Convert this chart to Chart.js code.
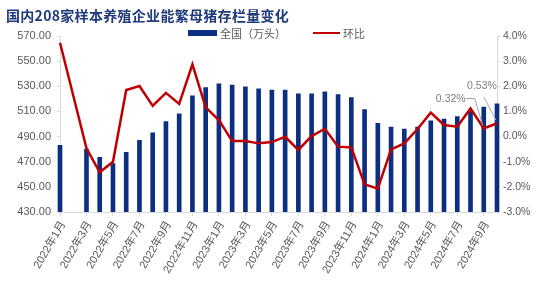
<!DOCTYPE html>
<html>
<head>
<meta charset="utf-8">
<script src="https://cdn.jsdelivr.net/npm/chart.js@4.4.1/dist/chart.umd.min.js"></script>
<style>
    html, body { margin: 0; padding: 0; background: #fff; }
    #wrap { position: relative; width: 550px; height: 288px; }
    #title {
        position: absolute; left: 6px; top: 6px;
        font: bold 14px "Noto Sans CJK SC", sans-serif;
        letter-spacing: 0.3px; color: #1f3a7a; line-height: 18px;
    }
    .lg { position: absolute; font: 11px "Noto Sans CJK SC", sans-serif; color: #595959; line-height: 14px; }
    .sw { position: absolute; }
</style>
</head>
<body>
<div id="wrap">
    <canvas id="chart" width="550" height="288"></canvas>
    <div id="title">国内208家样本养殖企业能繁母猪存栏量变化</div>
    <div class="sw" style="left:188px;top:30px;width:29px;height:6px;background:#0d2f82"></div>
    <div class="lg" style="left:220px;top:26px">全国（万头）</div>
    <div class="sw" style="left:313px;top:32px;width:27px;height:2px;background:#c00000"></div>
    <div class="lg" style="left:343px;top:26px">环比</div>
</div>
<script>
// 月份（2022年2月无数据）
const months = [
    '2022年1月', '2022年2月', '2022年3月', '2022年4月', '2022年5月', '2022年6月',
    '2022年7月', '2022年8月', '2022年9月', '2022年10月', '2022年11月', '2022年12月',
    '2023年1月', '2023年2月', '2023年3月', '2023年4月', '2023年5月', '2023年6月',
    '2023年7月', '2023年8月', '2023年9月', '2023年10月', '2023年11月', '2023年12月',
    '2024年1月', '2024年2月', '2024年3月', '2024年4月', '2024年5月', '2024年6月',
    '2024年7月', '2024年8月', '2024年9月', '2024年10月'
];

// 全国（万头）
const stock = [
    483, null, 480, 473.5, 468.5, 477.5, 487, 493, 502, 508, 522.5, 529,
    532, 531, 529.5, 528, 527, 527, 524, 524, 525.5, 523.5, 521, 511.5,
    500.5, 497.5, 496, 497.5, 502.5, 504, 506, 510, 513.5, 516
];

// 环比（%）
const mom = [
    3.73, null, -0.47, -1.42, -1.0, 1.85, 2.01, 1.22, 1.74, 1.30, 2.87, 1.16,
    0.66, -0.18, -0.18, -0.27, -0.22, -0.01, -0.53, 0.02, 0.31, -0.40, -0.43, -1.90,
    -2.07, -0.51, -0.27, 0.30, 0.95, 0.46, 0.39, 1.12, 0.32, 0.53
];

const leftTicks = [430, 450, 470, 490, 510, 530, 550, 570];
const rightTicks = [-3, -2, -1, 0, 1, 2, 3, 4];

// 标注：最后两个点
const notes = [
    { index: 32, text: '0.32%', tx: -33, ty: -29, path: [[-18, -30], [-9, -30], [-1, -3]] },
    { index: 33, text: '0.53%', tx: -15, ty: -37, path: [[-13, -26], [-1, -3]] }
];

const tickFont = { family: '"Liberation Sans", "Noto Sans CJK SC", sans-serif', size: 11 };
const gray = '#595959';
const axisGray = '#d9d9d9';

const notePlugin = {
    id: 'notes',
    afterDatasetsDraw(chart) {
        const meta = chart.getDatasetMeta(1);
        const ctx = chart.ctx;
        ctx.save();
        ctx.font = '10.5px "Liberation Sans", sans-serif';
        ctx.fillStyle = '#7f7f7f';
        ctx.strokeStyle = '#a6a6a6';
        ctx.lineWidth = 1;
        ctx.textAlign = 'center';
        ctx.textBaseline = 'middle';
        notes.forEach(n => {
            const pt = meta.data[n.index];
            ctx.beginPath();
            n.path.forEach((p, i) => {
                if (i === 0) ctx.moveTo(pt.x + p[0], pt.y + p[1]);
                else ctx.lineTo(pt.x + p[0], pt.y + p[1]);
            });
            ctx.stroke();
            ctx.fillText(n.text, pt.x + n.tx, pt.y + n.ty);
        });
        ctx.restore();
    }
};

const ctx = document.getElementById('chart').getContext('2d');
new Chart(ctx, {
    type: 'bar',
    data: {
        labels: months,
        datasets: [
            {
                label: '全国（万头）',
                data: stock,
                backgroundColor: '#0d2f82',
                barThickness: 4,
                yAxisID: 'y',
                order: 2,
                clip: { left: 4, right: 4, top: 0, bottom: 0 }
            },
            {
                type: 'line',
                label: '环比',
                data: mom,
                borderColor: '#c00000',
                borderWidth: 2.5,
                pointRadius: 0,
                tension: 0,
                spanGaps: true,
                yAxisID: 'y1',
                order: 1
            }
        ]
    },
    options: {
        responsive: false,
        animation: false,
        layout: { padding: { top: 36, left: 0, right: 0, bottom: 0 } },
        plugins: {
            legend: { display: false },
            title: { display: false },
            tooltip: { enabled: false }
        },
        scales: {
            x: {
                offset: false,
                grid: { offset: false, drawOnChartArea: false, color: axisGray, tickLength: 4 },
                border: { color: axisGray },
                ticks: {
                    autoSkip: false,
                    minRotation: 60,
                    maxRotation: 60,
                    color: gray,
                    font: tickFont,
                    padding: 3,
                    labelOffset: 3,
                    callback: function (v, i) { return i % 2 === 0 ? this.getLabelForValue(v) : null; }
                },
                afterFit: s => { s.height = 76; }
            },
            y: {
                position: 'left',
                min: 430,
                max: 570,
                afterBuildTicks: s => { s.ticks = leftTicks.map(v => ({ value: v })); },
                grid: { drawOnChartArea: false, color: axisGray, tickLength: 3 },
                border: { color: axisGray },
                ticks: { color: gray, font: tickFont, padding: 6, callback: v => v.toFixed(2) },
                afterFit: s => { s.width = 60; }
            },
            y1: {
                position: 'right',
                min: -3,
                max: 4,
                afterBuildTicks: s => { s.ticks = rightTicks.map(v => ({ value: v })); },
                grid: { drawOnChartArea: false, color: axisGray, tickLength: 3 },
                border: { color: axisGray },
                ticks: { color: gray, font: { family: tickFont.family, size: 10.5 }, padding: 3, callback: v => v.toFixed(1) + '%' },
                afterFit: s => { s.width = 53; }
            }
        }
    },
    plugins: [notePlugin]
});
</script>
</body>
</html>
